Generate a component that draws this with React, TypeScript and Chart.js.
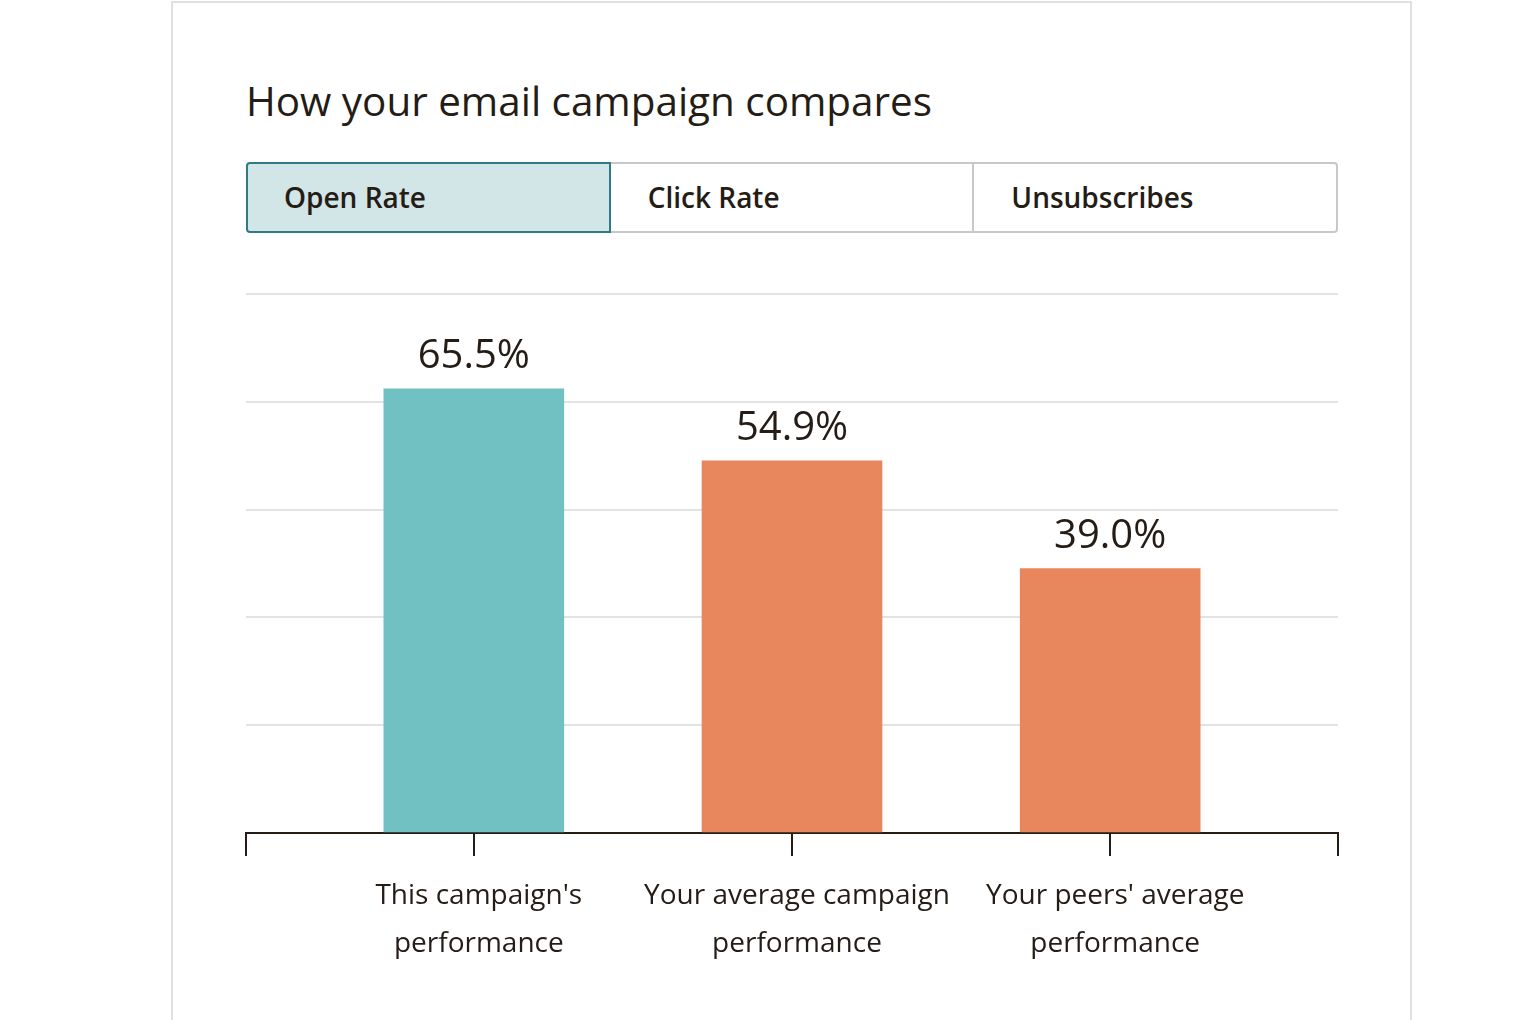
import React, { useEffect, useRef } from "react";
import { Chart, registerables } from "chart.js";

Chart.register(...registerables);

const title = "How your email campaign compares";
const tabs = ["Open Rate", "Click Rate", "Unsubscribes"];
const categories: string[][] = [
  ["This campaign's", "performance"],
  ["Your average campaign", "performance"],
  ["Your peers' average", "performance"],
];
const values = [65.5, 54.9, 39.0];
const valueLabels = ["65.5%", "54.9%", "39.0%"];
const barColors = ["#72c1c2", "#e8875e", "#e8875e"];
const yMax = 79.5;
const yStep = 15.9;
const xMin = 0.284;
const xMax = 3.716;

const FONT = "'Open Sans', sans-serif";
const INK = "#241c15";

const valueLabelPlugin = {
  id: "valueLabels",
  afterDatasetsDraw(chart: any) {
    const ctx = chart.ctx;
    const meta = chart.getDatasetMeta(0);
    ctx.save();
    ctx.font = `40px ${FONT}`;
    ctx.fillStyle = INK;
    ctx.textAlign = "center";
    ctx.textBaseline = "middle";
    meta.data.forEach((el: any, i: number) => {
      ctx.fillText(valueLabels[i], el.x, el.y - 32);
    });
    ctx.restore();
  },
};

export default function App() {
  const ref = useRef<HTMLCanvasElement | null>(null);
  useEffect(() => {
    if (!ref.current) return;
    const chart = new Chart(ref.current, {
      type: "bar",
      data: {
        datasets: [
          {
            data: values.map((v, i) => ({ x: i + 1, y: v })),
            backgroundColor: barColors,
            barThickness: 180,
            borderWidth: 0,
          },
        ],
      },
      options: {
        animation: false,
        responsive: false,
        devicePixelRatio: 1,
        layout: { padding: { left: 46, right: 62, top: 34, bottom: 0 } },
        plugins: { legend: { display: false }, tooltip: { enabled: false } },
        scales: {
          x: {
            type: "linear",
            position: "bottom",
            min: xMin,
            max: xMax,
            offset: false,
            afterBuildTicks: (axis: any) => {
              axis.ticks = [xMin, 1, 2, 3, xMax].map((v) => ({ value: v }));
            },
            afterFit: (axis: any) => {
              axis.height = 140;
            },
            border: { display: true, color: INK, width: 2 },
            grid: {
              display: true,
              offset: false,
              drawOnChartArea: false,
              drawTicks: true,
              tickLength: 23,
              color: INK,
              lineWidth: 2,
            },
            ticks: {
              autoSkip: false,
              maxRotation: 0,
              minRotation: 0,
              padding: 16,
              labelOffset: 5,
              color: INK,
              font: { family: FONT, size: 28, lineHeight: 48 / 28 },
              callback: (value: any) => {
                const r = Math.round(value);
                if (Math.abs(value - r) < 1e-6 && r >= 1 && r <= categories.length) {
                  return categories[r - 1];
                }
                return "";
              },
            },
          },
          y: {
            min: 0,
            max: yMax,
            ticks: { display: false, stepSize: yStep },
            border: { display: false },
            grid: { color: "#e3e3e3", lineWidth: 2, drawTicks: false },
          },
        },
      },
      plugins: [valueLabelPlugin],
    } as any);
    return () => chart.destroy();
  }, []);

  return (
    <div
      style={{
        position: "absolute",
        left: 0,
        top: 0,
        width: 1514,
        height: 1020,
        overflow: "hidden",
        background: "#fff",
        fontFamily: FONT,
        color: INK,
      }}
    >
      <div
        style={{
          position: "absolute",
          left: 171,
          top: 1,
          width: 1241,
          height: 1100,
          border: "2px solid #e0e0e0",
          boxSizing: "border-box",
        }}
      />
      <div
        style={{
          position: "absolute",
          left: 246,
          top: 75,
          fontSize: 40.4,
          lineHeight: "52px",
          whiteSpace: "nowrap",
        }}
      >
        {title}
      </div>
      <div
        style={{
          position: "absolute",
          left: 246,
          top: 162,
          width: 1092,
          height: 71,
          display: "flex",
        }}
      >
        {tabs.map((t, i) => (
          <div
            key={t}
            style={{
              flex: 1,
              boxSizing: "border-box",
              display: "flex",
              alignItems: "center",
              paddingLeft: i === 0 ? 36 : 37,
              paddingBottom: 1,
              fontSize: 28,
              fontWeight: 600,
              background: i === 0 ? "#d2e5e7" : "#fff",
              border: i === 0 ? "2px solid #2f7b85" : "2px solid #c8c8c8",
              borderLeft: i === 0 ? "2px solid #2f7b85" : "none",
              borderRadius: i === 0 ? "4px 0 0 4px" : i === tabs.length - 1 ? "0 4px 4px 0" : 0,
            }}
          >
            {t}
          </div>
        ))}
      </div>
      <canvas
        ref={ref}
        width={1200}
        height={713}
        style={{ position: "absolute", left: 200, top: 260, width: 1200, height: 713 }}
      />
    </div>
  );
}
